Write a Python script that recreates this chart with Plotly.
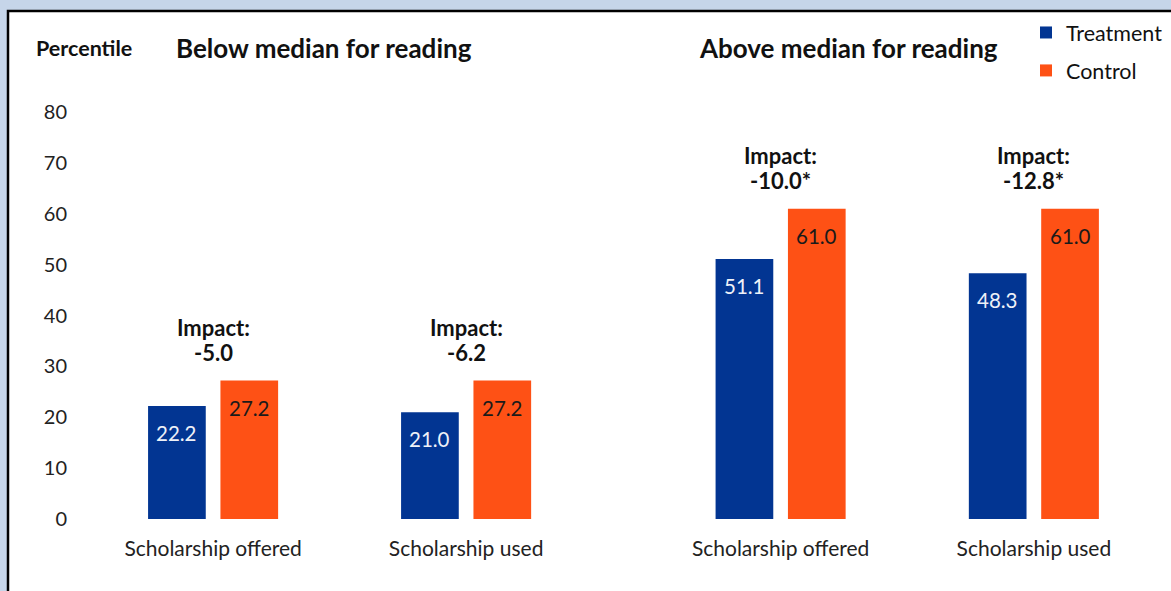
import plotly.graph_objects as go

# ---- data ----
categories = ["Scholarship offered", "Scholarship used", "Scholarship offered", "Scholarship used"]
treatment = [22.2, 21.0, 51.1, 48.3]
control = [27.2, 27.2, 61.0, 61.0]
impact = ["-5.0", "-6.2", "-10.0*", "-12.8*"]
panel_titles = ["Below median for reading", "Above median for reading"]
y_ticks = [0, 10, 20, 30, 40, 50, 60, 70, 80]

# ---- layout geometry ----
W, H = 1171, 591
L, R, T, B = 100, 21, 112, 72
pos = [0, 1, 2.243, 3.244]
XR = [-0.447, 3.703]
BW = 0.228
OFF = 0.143

def px_x(px):
    return (px - L) / (W - L - R)

def px_y(py):
    return (H - B - py) / (H - T - B)

FONT = "Lato, 'Open Sans', sans-serif"
BLUE = "#023592"
ORANGE = "#FE5115"

fig = go.Figure()
fig.add_trace(go.Bar(x=[p - OFF for p in pos], y=treatment, width=BW, name="Treatment",
                     marker=dict(color=BLUE, line=dict(width=0)), legendgroup="t"))
fig.add_trace(go.Bar(x=[p + OFF for p in pos], y=control, width=BW, name="Control",
                     marker=dict(color=ORANGE, line=dict(width=0)), legendgroup="c"))

ann = []
for p, t, c, imp in zip(pos, treatment, control, impact):
    ann.append(dict(x=p - OFF, y=t, xref="x", yref="y", text=f"{t:.1f}", showarrow=False,
                    yanchor="middle", yshift=-27, font=dict(family=FONT, size=20.5, color="#EEF1F8")))
    ann.append(dict(x=p + OFF, y=c, xref="x", yref="y", text=f"{c:.1f}", showarrow=False,
                    yanchor="middle", yshift=-27, font=dict(family=FONT, size=20.5, color="#1a1a1a")))
    ann.append(dict(x=p, y=c, xref="x", yref="y", text="Impact:", showarrow=False,
                    yanchor="middle", yshift=53,
                    font=dict(family=FONT, size=22, color="#111111", weight="bold")))
    ann.append(dict(x=p, y=c, xref="x", yref="y", text=imp, showarrow=False,
                    yanchor="middle", yshift=28,
                    font=dict(family=FONT, size=22, color="#111111", weight="bold")))

# panel titles
for cx, title in zip([324, 848], panel_titles):
    ann.append(dict(x=px_x(cx), y=px_y(48), xref="paper", yref="paper", text=title,
                    showarrow=False, xanchor="center", yanchor="middle",
                    font=dict(family=FONT, size=26, color="#111111", weight="bold")))
ann.append(dict(x=px_x(84), y=px_y(48), xref="paper", yref="paper", text="Percentile",
                showarrow=False, xanchor="center", yanchor="middle",
                font=dict(family=FONT, size=21.5, color="#111111", weight="bold")))

fig.update_layout(
    width=W, height=H,
    margin=dict(l=L, r=R, t=T, b=B, autoexpand=False),
    paper_bgcolor="#C6D5E9",
    plot_bgcolor="rgba(0,0,0,0)",
    barmode="overlay",
    annotations=ann,
    shapes=[dict(type="rect", xref="paper", yref="paper", layer="below",
                 x0=px_x(8), x1=px_x(1185), y0=px_y(605), y1=px_y(11),
                 fillcolor="white", line=dict(color="black", width=2.5))],
    xaxis=dict(range=XR, tickvals=pos, ticktext=categories, showgrid=False, zeroline=False,
               showline=False, ticks="", ticklabelstandoff=15,
               tickfont=dict(family=FONT, size=21, color="#222222")),
    yaxis=dict(range=[0, 80], tickvals=y_ticks, showgrid=False, zeroline=False,
               showline=False, ticks="", ticklabelstandoff=32,
               tickfont=dict(family=FONT, size=20, color="#222222")),
    legend=dict(x=px_x(1026), y=px_y(12), xanchor="left", yanchor="top",
                bgcolor="rgba(0,0,0,0)", traceorder="grouped", tracegroupgap=7,
                font=dict(family=FONT, size=21.5, color="#111111")),
    showlegend=True,
)

fig.write_html("out.html", config={"displayModeBar": False},
               post_script="document.body.style.margin='0px';")
